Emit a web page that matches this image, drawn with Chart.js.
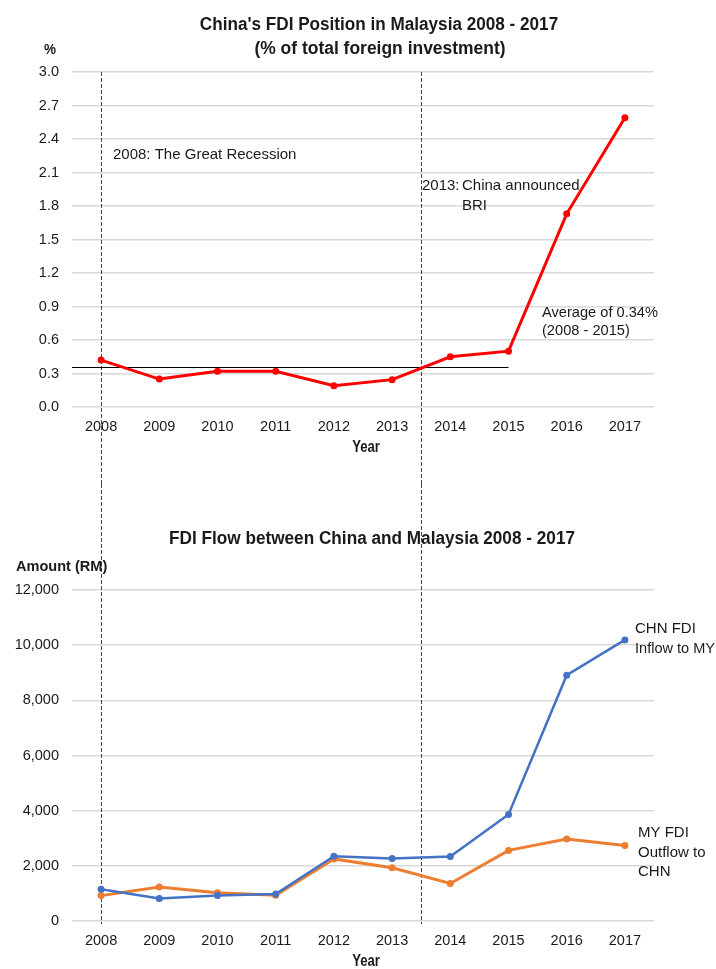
<!DOCTYPE html>
<html><head><meta charset="utf-8">
<script src="https://cdn.jsdelivr.net/npm/chart.js@4.4.0/dist/chart.umd.min.js"></script>
<style>
html,body{margin:0;padding:0;background:#fff;}
#wrap{position:relative;width:716px;height:969px;overflow:hidden;}
.c{position:absolute;left:0;width:716px;}
#top{top:0;height:484px;}
#bot{top:484px;height:485px;}
</style></head><body>
<div id="wrap">
<div class="c" id="top"><canvas id="c1"></canvas></div>
<div class="c" id="bot"><canvas id="c2"></canvas></div>
</div>
<script>
// ---- data ----
const years = ['2008','2009','2010','2011','2012','2013','2014','2015','2016','2017'];
const fdiPositionPct = [0.42, 0.25, 0.32, 0.32, 0.19, 0.245, 0.45, 0.50, 1.73, 2.59];
const avgLevel = 0.36;            // drawn level of the 2008-2015 average line
const avgEndIndex = 7;            // average line runs to 2015
const chnInflowToMY = [1150, 820, 920, 980, 2350, 2270, 2340, 3860, 8910, 10190];
const myOutflowToCHN = [920, 1230, 1020, 930, 2250, 1930, 1360, 2560, 2970, 2740];
const markerPositions = [0, 5.5]; // 2008 and between 2013/2014

const NARROW = '"Liberation Sans Narrow","Arial Narrow","Liberation Sans",Arial,sans-serif';
const REG = '"Liberation Sans",Arial,sans-serif';
const GRID = '#d9d9d9';
const TXT = '#1a1a1a';

function drawText(ctx, t){
  ctx.save();
  ctx.font = t.font;
  ctx.fillStyle = t.color || TXT;
  ctx.textAlign = t.align || 'left';
  ctx.textBaseline = 'middle';
  ctx.translate(t.x, t.y);
  ctx.scale(t.sx || 1, 1);
  ctx.fillText(t.text, 0, 0);
  ctx.restore();
}

function makePlugins(texts, dashTop, dashBottom, avg){
  return [{
    id:'custom',
    beforeDatasetsDraw(chart){
      const ctx = chart.ctx, xs = chart.scales.x, ys = chart.scales.y, ca = chart.chartArea;
      ctx.save();
      ctx.strokeStyle = '#444';
      ctx.lineWidth = 1;
      ctx.setLineDash([4,2]);
      markerPositions.forEach(v=>{
        const x = Math.round(xs.getPixelForValue(v)) + 0.5;
        ctx.beginPath();
        ctx.moveTo(x, dashTop(ca));
        ctx.lineTo(x, dashBottom(ca, chart));
        ctx.stroke();
      });
      ctx.restore();
      if (avg){
        const y = Math.round(ys.getPixelForValue(avgLevel)) + 0.5;
        ctx.save();
        ctx.strokeStyle = '#000';
        ctx.lineWidth = 1;
        ctx.beginPath();
        ctx.moveTo(ca.left, y);
        ctx.lineTo(xs.getPixelForValue(avgEndIndex), y);
        ctx.stroke();
        ctx.restore();
      }
    },
    afterDraw(chart){
      texts.forEach(t=>drawText(chart.ctx, t));
    }
  }];
}

function baseOptions(padTop, padBottom, yopts){
  return {
    responsive:true, maintainAspectRatio:false, animation:false, devicePixelRatio:1,
    layout:{padding:{top:padTop, bottom:padBottom, left:0, right:62}},
    plugins:{legend:{display:false}, tooltip:{enabled:false}, title:{display:false}},
    scales:{
      x:{
        offset:true,
        grid:{display:false, drawTicks:false},
        border:{display:false},
        ticks:{font:{family:REG, size:14.5}, color:TXT, padding:11, maxRotation:0},
        afterFit(s){ s.height = 40; }
      },
      y:Object.assign({
        grid:{color:GRID, lineWidth:1.5, drawTicks:false},
        border:{display:false},
        afterFit(s){ s.width = 72; }
      }, yopts)
    }
  };
}

// ---- top chart ----
const topTexts = [
  {text:"China's FDI Position in Malaysia 2008 - 2017", x:379, y:25, font:'bold 18px '+NARROW, align:'center', sx:0.952},
  {text:"(% of total foreign investment)", x:380, y:49, font:'bold 18px '+NARROW, align:'center', sx:0.97},
  {text:'%', x:50, y:50, font:'bold 15px '+NARROW, align:'center', sx:0.9},
  {text:'2008: The Great Recession', x:113, y:155, font:'15px '+REG},
  {text:'2013:', x:422, y:186, font:'15px '+REG},
  {text:'China announced', x:462, y:186, font:'15px '+REG},
  {text:'BRI', x:462, y:206, font:'15px '+REG},
  {text:'Average of 0.34%', x:542, y:313, font:'15px '+REG, sx:0.975},
  {text:'(2008 - 2015)', x:542, y:331, font:'15px '+REG, sx:0.975},
  {text:'Year', x:366, y:448, font:'bold 16px '+NARROW, align:'center', sx:0.82}
];
new Chart(document.getElementById('c1'), {
  type:'line',
  data:{labels:years, datasets:[{
    data:fdiPositionPct, borderColor:'#ff0000', backgroundColor:'#ff0000',
    borderWidth:3, pointRadius:3.5, pointBorderWidth:0, tension:0
  }]},
  options: baseOptions(72, 37, {
    min:0, max:3.0,
    ticks:{stepSize:0.3, font:{family:REG, size:14.5}, color:TXT, padding:13,
      callback:v=>Number(v).toFixed(1)}
  }),
  plugins: makePlugins(topTexts, ca=>ca.top, (ca,ch)=>ch.height, true)
});

// ---- bottom chart ----
const botTexts = [
  {text:'FDI Flow between China and Malaysia 2008 - 2017', x:372, y:55, font:'bold 18px '+NARROW, align:'center', sx:0.955},
  {text:'Amount (RM)', x:16, y:83, font:'bold 15px '+NARROW, sx:0.97},
  {text:'CHN FDI', x:635, y:145, font:'15px '+REG},
  {text:'Inflow to MY', x:635, y:165, font:'15px '+REG, sx:0.97},
  {text:'MY FDI', x:638, y:349, font:'15px '+REG},
  {text:'Outflow to', x:638, y:369, font:'15px '+REG},
  {text:'CHN', x:638, y:388, font:'15px '+REG},
  {text:'Year', x:366, y:478, font:'bold 16px '+NARROW, align:'center', sx:0.82}
];
new Chart(document.getElementById('c2'), {
  type:'line',
  data:{labels:years, datasets:[
    {data:chnInflowToMY, borderColor:'#4472c4', backgroundColor:'#4472c4',
     borderWidth:2.5, pointRadius:3.5, pointBorderWidth:0, tension:0},
    {data:myOutflowToCHN, borderColor:'#ed7d31', backgroundColor:'#ed7d31',
     borderWidth:3, pointRadius:3.5, pointBorderWidth:0, tension:0}
  ]},
  options: baseOptions(106, 8, {
    min:0, max:12000,
    ticks:{stepSize:2000, font:{family:REG, size:14.5}, color:TXT, padding:13,
      callback:v=>Number(v).toLocaleString('en-US')}
  }),
  plugins: makePlugins(botTexts, ca=>0, (ca,ch)=>ca.bottom+3, false)
});
</script>
</body></html>
